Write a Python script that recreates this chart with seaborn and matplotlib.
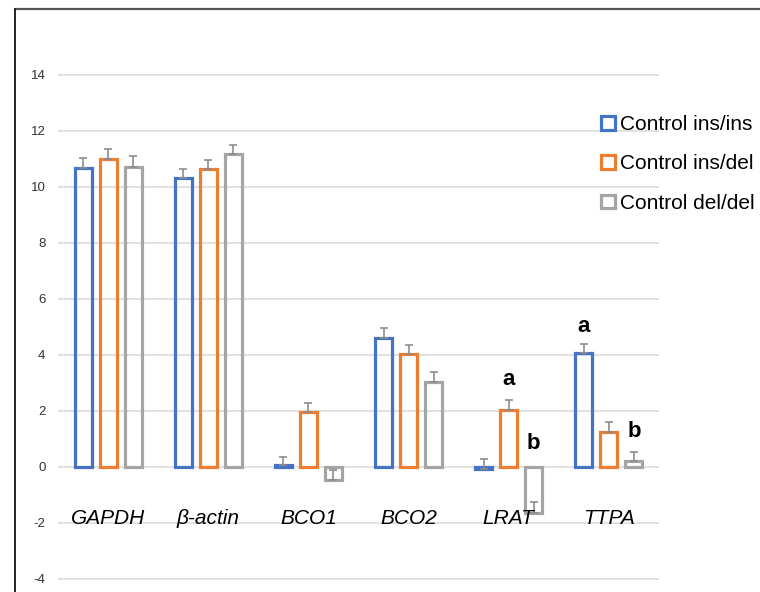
import numpy as np
import pandas as pd
import matplotlib
matplotlib.use("Agg")
import matplotlib.pyplot as plt
from matplotlib.lines import Line2D
import seaborn as sns

# Relative expression per gene and genotype group
genes = ["GAPDH", "β-actin", "BCO1", "BCO2", "LRAT", "TTPA"]
groups = ["Control ins/ins", "Control ins/del", "Control del/del"]
ins_ins = [10.66, 10.31, 0.05, 4.60, -0.06, 4.05]
ins_del = [11.00, 10.63, 1.96, 4.03, 2.04, 1.24]
del_del = [10.70, 11.16, -0.48, 3.04, -1.63, 0.22]
ins_ins_err = [0.37, 0.32, 0.31, 0.35, 0.33, 0.35]
ins_del_err = [0.33, 0.32, 0.32, 0.33, 0.34, 0.37]
del_del_err = [0.38, 0.33, 0.38, 0.35, 0.36, 0.32]
colors = ["#4472C4", "#ED7D31", "#A5A5A5"]
yticks = [-4, -2, 0, 2, 4, 6, 8, 10, 12, 14]

# Significance letters: (gene index, group index, baseline y, letter)
letters = [(4, 1, 2.93, "a"), (4, 2, 0.65, "b"), (5, 0, 4.82, "a"), (5, 2, 1.06, "b")]

values = [ins_ins, ins_del, del_del]
errors = [ins_ins_err, ins_del_err, del_del_err]

df = pd.DataFrame({
    "gene": np.tile(genes, len(groups)),
    "group": np.repeat(groups, len(genes)),
    "value": np.concatenate(values),
})

sns.set_theme(style="white")
plt.rcParams["font.family"] = ["Liberation Sans", "DejaVu Sans"]

fig = plt.figure(figsize=(7.6, 5.92), dpi=100)
ax = fig.add_axes([58 / 760, 0.0, (659 - 58) / 760, 545.5 / 592])

sns.barplot(
    data=df, x="gene", y="value", hue="group",
    order=genes, hue_order=groups,
    palette=dict(zip(groups, colors)),
    fill=False, linewidth=2.3, width=0.75, gap=0.32,
    errorbar=None, ax=ax, zorder=3,
)

# Upper error bars from each bar end
for cont, vals, errs in zip(ax.containers, values, errors):
    xs = [p.get_x() + p.get_width() / 2 for p in cont.patches]
    ax.errorbar(xs, vals, yerr=[np.zeros(len(errs)), errs], fmt="none",
                ecolor="#8c8c8c", elinewidth=1.2, capsize=3.2, capthick=1.2,
                zorder=4)

# Letters above selected bars
for gi, hi, y, txt in letters:
    p = ax.containers[hi].patches[gi]
    ax.text(p.get_x() + p.get_width() / 2, y, txt, ha="center", va="baseline",
            fontsize=16, fontweight="bold", color="black", zorder=5)

# Gene names inside the plot area
for i, g in enumerate(genes):
    ax.text(i, -2.05, g, ha="center", va="baseline", fontsize=15,
            fontstyle="italic", color="black", zorder=5)

ax.set_xlim(-0.5, 5.5)
ax.set_ylim(-4.464, 15)
ax.set_yticks(yticks)
ax.set_yticklabels([str(t) for t in yticks], fontsize=9.5, color="#333333")
ax.tick_params(axis="y", length=0, pad=9)
ax.set_xticks([])
ax.set_xlabel("")
ax.set_ylabel("")
ax.yaxis.grid(True, color="#dcdcdc", linewidth=1.2, zorder=0)
ax.set_axisbelow(True)
for s in ax.spines.values():
    s.set_visible(False)

# Legend to the right of the plot area
leg = ax.get_legend()
handles = leg.legend_handles
labels = [t.get_text() for t in leg.get_texts()]
leg.remove()
for h, c in zip(handles, colors):
    h.set_edgecolor(c)
    h.set_facecolor("white")
    h.set_linewidth(2.3)
lg = fig.legend(handles, labels, loc="upper left",
                bbox_to_anchor=(601 / 760, 1 - 115 / 592),
                frameon=False, fontsize=15, handlelength=0.65, handleheight=0.65,
                handletextpad=0.25, labelspacing=0.98, borderpad=0, borderaxespad=0)
for t in lg.get_texts():
    t.set_color("black")

# Frame lines along the top and left
fig.add_artist(Line2D([15 / 760, 1.0], [1 - 8.5 / 592, 1 - 8.5 / 592],
                      transform=fig.transFigure, color="#555555", linewidth=1.6))
fig.add_artist(Line2D([15 / 760, 15 / 760], [0, 1 - 8.5 / 592],
                      transform=fig.transFigure, color="black", linewidth=1.2))

fig.savefig("out.png", dpi=100)
